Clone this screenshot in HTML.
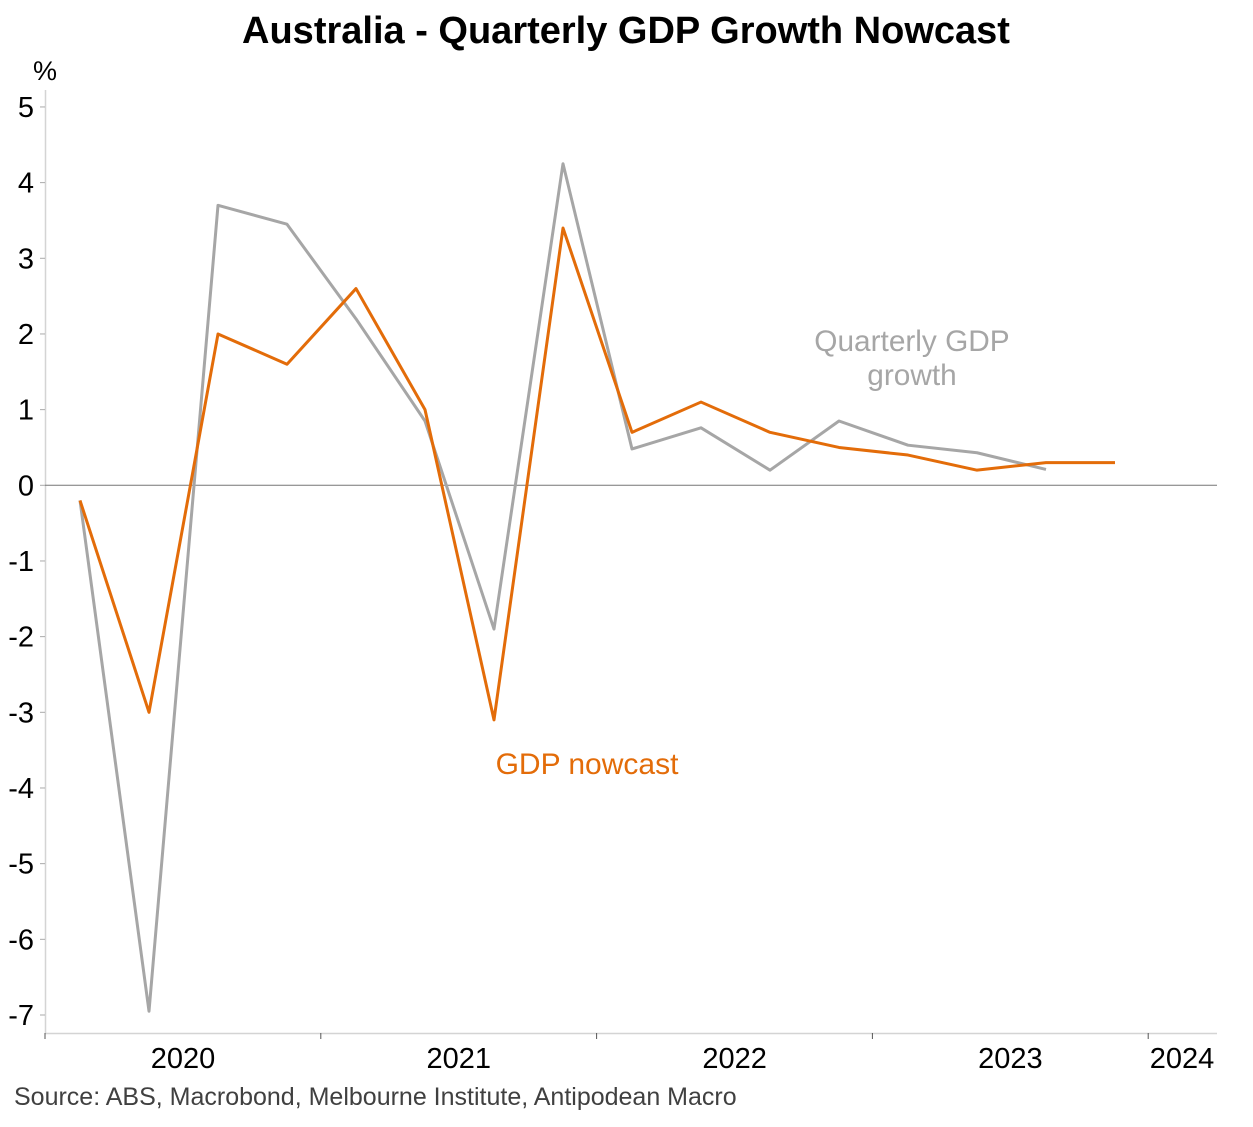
<!DOCTYPE html>
<html><head><meta charset="utf-8"><style>
body{margin:0;background:#fff;width:1253px;height:1122px;overflow:hidden;font-family:"Liberation Sans",Arial,sans-serif}
</style></head><body>
<svg id="chart" width="1253" height="1122" xmlns="http://www.w3.org/2000/svg" font-family="Liberation Sans, Arial, sans-serif">
<text x="626" y="43" text-anchor="middle" font-size="38" font-weight="bold" fill="#000">Australia - Quarterly GDP Growth Nowcast</text>
<text x="45" y="80" text-anchor="middle" font-size="27" fill="#000">%</text>
<line x1="45.5" y1="90" x2="45.5" y2="1033" stroke="#d4d4d4" stroke-width="1.5"/>
<line x1="45" y1="1033.5" x2="1217" y2="1033.5" stroke="#d4d4d4" stroke-width="1.5"/>
<g id="yticks"></g><g id="xticks"></g><g id="series"></g>
<text x="912" y="351" text-anchor="middle" font-size="29.8" fill="#a6a6a6">Quarterly GDP</text>
<text x="912" y="385" text-anchor="middle" font-size="29.8" fill="#a6a6a6">growth</text>
<text x="587" y="774" text-anchor="middle" font-size="30" fill="#e36c09">GDP nowcast</text>
<text x="14" y="1105" font-size="25" fill="#404040">Source: ABS, Macrobond, Melbourne Institute, Antipodean Macro</text>
</svg>
<script>
const yTicks=[5,4,3,2,1,0,-1,-2,-3,-4,-5,-6,-7];
const years=["2020","2021","2022","2023","2024"];
const gdp=[-0.2,-6.95,3.7,3.45,2.2,0.85,-1.9,4.25,0.48,0.76,0.2,0.85,0.53,0.43,0.21];
const nowcast=[-0.2,-3.0,2.0,1.6,2.6,1.0,-3.1,3.4,0.7,1.1,0.7,0.5,0.4,0.2,0.3,0.3];
const NS="http://www.w3.org/2000/svg";
const y=v=>485.3-v*75.67;
const x=i=>80+i*69;
const yearX=k=>45+k*275.8;
function mk(t,a,p){const e=document.createElementNS(NS,t);for(const k in a)e.setAttribute(k,a[k]);p.appendChild(e);return e;}
const yt=document.getElementById('yticks');
yTicks.forEach(v=>{
 const l=mk('line',{x1:40,x2:45,y1:y(v),y2:y(v),stroke:'#aaa'},yt);
 
 
 const t=mk('text',{x:34,y:y(v)+10,'text-anchor':'end','font-size':29,fill:'#000'},yt);
 t.textContent=v;
 
 
});
const z=mk('line',{x1:45,x2:1217,y1:y(0),y2:y(0),stroke:'#777','stroke-width':1},yt);


const xt=document.getElementById('xticks');
for(let k=0;k<5;k++){
 const l=mk('line',{x1:yearX(k),x2:yearX(k),y1:1033,y2:1039,stroke:'#555'},xt);
 
 
}
years.forEach((s,k)=>{
 const cx=k<4?yearX(k)+138:1182;
 const t=mk('text',{x:cx,y:1068,'text-anchor':'middle','font-size':29,fill:'#000'},xt);
 t.textContent=s;
 
 
});
const sg=document.getElementById('series');
const p1=mk('polyline',{points:gdp.map((v,i)=>x(i)+','+y(v)).join(' '),fill:'none',stroke:'#a6a6a6','stroke-width':3,'stroke-linejoin':'round'},sg);


const p2=mk('polyline',{points:nowcast.map((v,i)=>x(i)+','+y(v)).join(' '),fill:'none',stroke:'#e36c09','stroke-width':3,'stroke-linejoin':'round'},sg);


</script>
</body></html>
